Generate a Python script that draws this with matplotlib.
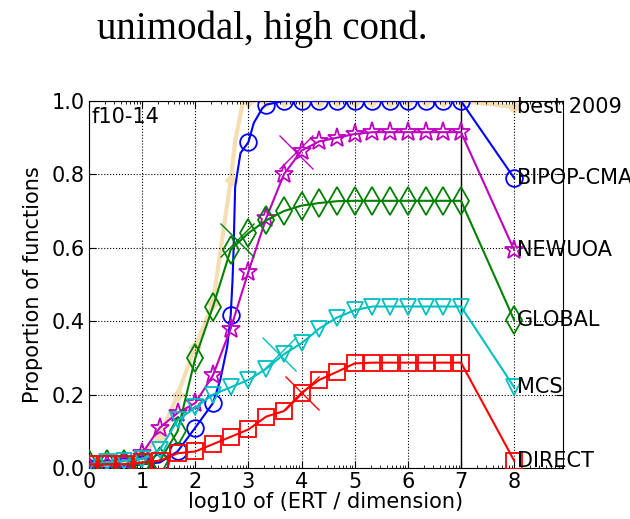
import numpy as np
import matplotlib
matplotlib.use("Agg")
import matplotlib.pyplot as plt

# marker positions: every 1/3 in log10 from 0 to 7, last point at 8 (label column)
x_marks = [k / 3.0 for k in range(22)] + [8.0]

best2009 = [0.01, 0.01, 0.02, 0.035, 0.085, 0.2, 0.33, 0.45, 0.785, 1.0, 1.0,
            1.0, 1.0, 1.0, 1.0, 1.0, 1.0, 1.0, 1.0, 1.0, 1.0, 1.0, 0.984]
bipop = [0.0, 0.0, 0.005, 0.01, 0.015, 0.045, 0.11, 0.177, 0.417, 0.888, 0.99,
         1.0, 1.0, 1.0, 1.0, 1.0, 1.0, 1.0, 1.0, 1.0, 1.0, 1.0, 0.79]
newuoa = [0.005, 0.01, 0.02, 0.04, 0.11, 0.15, 0.177, 0.253, 0.38, 0.535, 0.68,
          0.80, 0.865, 0.89, 0.90, 0.91, 0.915, 0.915, 0.915, 0.915, 0.915, 0.915, 0.594]
global_ = [0.01, 0.01, 0.01, 0.01, 0.02, 0.10, 0.30, 0.44, 0.595, 0.64, 0.675,
           0.70, 0.715, 0.722, 0.727, 0.728, 0.728, 0.728, 0.728, 0.728, 0.728, 0.728, 0.403]
mcs = [0.01, 0.015, 0.02, 0.025, 0.05, 0.13, 0.165, 0.20, 0.22, 0.24, 0.27,
       0.31, 0.34, 0.38, 0.41, 0.43, 0.44, 0.44, 0.44, 0.44, 0.44, 0.44, 0.22]
direct = [0.01, 0.01, 0.01, 0.015, 0.02, 0.04, 0.045, 0.065, 0.085, 0.105, 0.14,
          0.155, 0.205, 0.24, 0.262, 0.285, 0.287, 0.287, 0.287, 0.287, 0.287, 0.287, 0.02]

bipop_steep_x = [2.47, 2.6, 2.7, 2.72, 2.75, 2.85, 3.1, 3.26]
bipop_steep_y = [0.24, 0.33, 0.51, 0.594, 0.766, 0.858, 0.94, 0.98]
best_steep_x = [2.75, 2.9]
best_steep_y = [0.89, 1.0]

# median markers (thin crosses)
median_x = {"NEWUOA": 3.9, "GLOBAL": 2.79, "MCS": 3.57, "DIRECT": 4.0}
median_y = {"NEWUOA": 0.86, "GLOBAL": 0.62, "MCS": 0.31, "DIRECT": 0.205}

labels = ["best 2009", "BIPOP-CMA", "NEWUOA", "GLOBAL", "MCS", "DIRECT"]

FS = 15


def merged(xa, ya, xb, yb):
    xs = np.concatenate([xa, xb])
    ys = np.concatenate([ya, yb])
    order = np.argsort(xs, kind="stable")
    return xs[order], ys[order]


fig = plt.figure(figsize=(6.3, 5.19), dpi=100)
ax = fig.add_axes([0.1413, 0.0983, 0.7524, 0.7071])

# best 2009
bx, by = merged(x_marks, best2009, best_steep_x, best_steep_y)
ax.plot(bx, by, color="wheat", lw=3, zorder=1)
ax.plot(x_marks, best2009, ls="none", marker="D", ms=6, color="wheat", zorder=1)

# BIPOP-CMA
cx, cy = merged(x_marks, bipop, bipop_steep_x, bipop_steep_y)
ax.plot(cx, cy, color="b", lw=1.5, zorder=3)
ax.plot(x_marks, bipop, ls="none", marker="o", ms=12, mfc="none", mec="b", mew=1.3, zorder=3)

styles = [("NEWUOA", newuoa, "m", "*", 14),
          ("GLOBAL", global_, "g", "d", 14),
          ("MCS", mcs, "c", "v", 12),
          ("DIRECT", direct, "r", "s", 12)]
for name, ys, col, mk, ms in styles:
    ax.plot(x_marks, ys, color=col, lw=1.5, marker=mk, ms=ms, mfc="none",
            mec=col, mew=1.3, zorder=3)
    ax.plot(median_x[name], median_y[name], marker="x", ms=24, mew=1,
            color=col, ls="none", zorder=3)

ax.axvline(7, color="k", lw=1, zorder=2)

finals = [best2009[-1], bipop[-1], newuoa[-1], global_[-1], mcs[-1], direct[-1]]
for lab, yv in zip(labels, finals):
    ax.text(8.05, yv, lab, fontsize=FS, va="center", ha="left", clip_on=False)

ax.text(0.05, 0.985, "f10-14", fontsize=FS, va="top", ha="left")

ax.set_xlim(0, 8.92)
ax.set_ylim(0, 1)
ax.set_xticks(range(9))
ax.set_yticks([0, 0.2, 0.4, 0.6, 0.8, 1.0])
ax.set_yticklabels(["0.0", "0.2", "0.4", "0.6", "0.8", "1.0"])
minor = [n + np.log10(k) for n in range(9) for k in range(2, 10) if n + np.log10(k) < 8.92]
ax.set_xticks(minor, minor=True)
ax.tick_params(direction="in", top=True, right=True, labelsize=FS, length=5, pad=3)
ax.tick_params(which="minor", direction="in", top=True, length=2.5)
ax.grid(True, which="major", color="k", ls=":", lw=0.8)
ax.set_xlabel("log10 of (ERT / dimension)", fontsize=FS, labelpad=0)
ax.set_ylabel("Proportion of functions", fontsize=FS, labelpad=6)

fig.text(0.416, 0.925, "unimodal, high cond.", fontsize=28, ha="center",
         va="baseline", family="Liberation Serif")

fig.savefig("out.png", dpi=100)
